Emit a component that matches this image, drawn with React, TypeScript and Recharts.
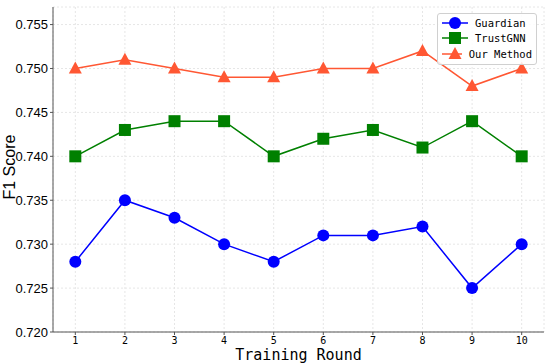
import React from 'react';
import { LineChart, Line, XAxis, YAxis, CartesianGrid } from 'recharts';

const rounds = [1, 2, 3, 4, 5, 6, 7, 8, 9, 10];
const guardian = [0.728, 0.735, 0.733, 0.73, 0.728, 0.731, 0.731, 0.732, 0.725, 0.73];
const trustGNN = [0.74, 0.743, 0.744, 0.744, 0.74, 0.742, 0.743, 0.741, 0.744, 0.74];
const ourMethod = [0.75, 0.751, 0.75, 0.749, 0.749, 0.75, 0.75, 0.752, 0.748, 0.75];
const yTicks = [0.72, 0.725, 0.73, 0.735, 0.74, 0.745, 0.75, 0.755];

const data = rounds.map((r, i) => ({
  round: r,
  Guardian: guardian[i],
  TrustGNN: trustGNN[i],
  'Our Method': ourMethod[i],
}));

const BLUE = '#0000ff';
const GREEN = '#008000';
const ORANGE = '#ff5733';
const MONO = '"DejaVu Sans Mono", "Liberation Mono", monospace';
const SANS = '"Liberation Sans", Arial, sans-serif';

const Circle = (props: any) => {
  const { cx, cy, fill } = props;
  if (cx == null || cy == null) return null;
  return <circle cx={cx} cy={cy} r={6} fill={fill} />;
};

const Square = (props: any) => {
  const { cx, cy, fill } = props;
  if (cx == null || cy == null) return null;
  return <rect x={cx - 6} y={cy - 6} width={12} height={12} fill={fill} />;
};

const Triangle = (props: any) => {
  const { cx, cy, fill } = props;
  if (cx == null || cy == null) return null;
  return <polygon points={`${cx},${cy - 7} ${cx - 6.5},${cy + 5} ${cx + 6.5},${cy + 5}`} fill={fill} />;
};

const legendItems = [
  { name: 'Guardian', color: BLUE, Marker: Circle },
  { name: 'TrustGNN', color: GREEN, Marker: Square },
  { name: 'Our Method', color: ORANGE, Marker: Triangle },
];

const LegendBox = () => (
  <div
    style={{
      position: 'absolute',
      left: 437,
      top: 13,
      width: 100,
      boxSizing: 'border-box',
      border: '1px solid #d0d0d0',
      borderRadius: 3,
      background: 'rgba(255,255,255,0.85)',
      padding: '1px 4px 2px 4px',
    }}
  >
    {legendItems.map(({ name, color, Marker }) => (
      <div key={name} style={{ display: 'flex', alignItems: 'center', height: 15.5 }}>
        <svg width={26} height={14}>
          <line x1={0} y1={7} x2={26} y2={7} stroke={color} strokeWidth={1.5} />
          <Marker cx={13} cy={7} fill={color} />
        </svg>
        <span style={{ fontFamily: MONO, fontSize: 10.5, marginLeft: 7, color: '#000', whiteSpace: 'nowrap' }}>{name}</span>
      </div>
    ))}
  </div>
);

export default function App() {
  return (
    <div style={{ position: 'absolute', left: 0, top: 0, width: 550, height: 363, background: '#fff' }}>
      <LineChart width={550} height={363} data={data} margin={{ top: 7, right: 6, bottom: 0, left: 0 }}>
        <CartesianGrid stroke="#e6e6e6" strokeDasharray="2 2" />
        <XAxis
          dataKey="round"
          type="number"
          domain={[0.55, 10.45]}
          ticks={rounds}
          height={31}
          stroke="#555"
          tickSize={3}
          tick={{ fontSize: 10, fill: '#000', fontFamily: MONO }}
          label={{ value: 'Training Round', position: 'insideBottom', offset: 3, fontSize: 15, fill: '#000', fontFamily: MONO }}
        />
        <XAxis xAxisId="top" orientation="top" dataKey="round" type="number" domain={[0.55, 10.45]} height={0} tick={false} tickLine={false} stroke="#555" />
        <YAxis
          domain={[0.72, 0.757]}
          ticks={yTicks}
          width={53}
          stroke="#555"
          tickSize={3}
          allowDataOverflow
          tickFormatter={(v: number) => v.toFixed(3)}
          tick={{ fontSize: 13, fill: '#000', fontFamily: SANS }}
          label={{ value: 'F1 Score', angle: -90, position: 'insideLeft', dx: 4, dy: 30, fontSize: 16, fill: '#000', fontFamily: SANS }}
        />
        <YAxis yAxisId="right" orientation="right" domain={[0.72, 0.757]} width={0} tick={false} tickLine={false} stroke="#555" />
        <Line dataKey="Guardian" stroke={BLUE} strokeWidth={1.5} dot={<Circle fill={BLUE} />} isAnimationActive={false} />
        <Line dataKey="TrustGNN" stroke={GREEN} strokeWidth={1.5} dot={<Square fill={GREEN} />} isAnimationActive={false} />
        <Line dataKey="Our Method" stroke={ORANGE} strokeWidth={1.5} dot={<Triangle fill={ORANGE} />} isAnimationActive={false} />
      </LineChart>
      <LegendBox />
    </div>
  );
}
